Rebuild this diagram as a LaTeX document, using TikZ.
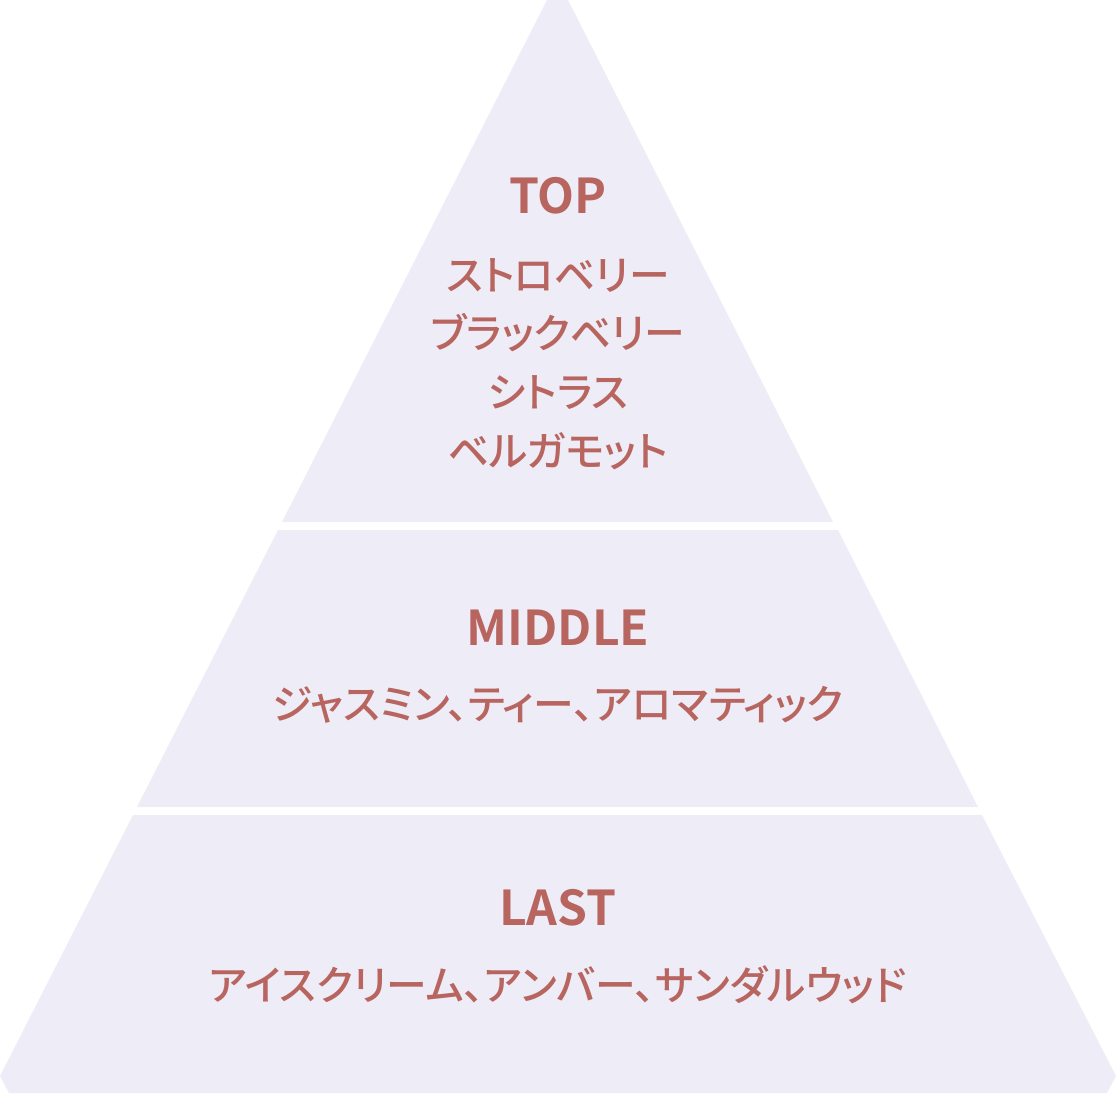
\documentclass[tikz,border=0pt]{standalone}
\usepackage{fontspec}
\newfontfamily\jp[RawFeature=+palt,BoldFont={Noto Sans CJK JP Bold}]{Noto Sans CJK JP Medium}
\definecolor{tierfill}{HTML}{EEECF7}
\definecolor{notetext}{HTML}{B86560}

\begin{document}
\begin{tikzpicture}[x=.75pt, y=-.75pt,
  tier/.style={fill=tierfill},
  head/.style={text=notetext, font=\jp\bfseries\fontsize{36}{44}\selectfont},
  notes/.style={text=notetext, align=center, font=\jp\fontsize{30.6}{44}\selectfont}]

\useasboundingbox (0,0) rectangle (1116,1094);

\fill[tier] (547,0)--(568,0)--(833,522)--(282,522)--cycle;
\fill[tier] (278,530)--(838,530)--(978,807)--(137,807)--cycle;
\fill[tier] (133,815)--(982,815)--(1116,1076)--(1107,1093)--(9,1093)--(0,1076)--cycle;

\node[head] (top) at (558,196) {TOP};
\node[notes] (topnotes) at (558,364) {ストロベリー\\ブラックベリー\\シトラス\\ベルガモット};

\node[head] (middle) at (558,628) {MIDDLE};
\node[notes] (middlenotes) at (558,705) {ジャスミン、ティー、アロマティック};

\node[head] (last) at (558,908) {LAST};
\node[notes] (lastnotes) at (558,985) {アイスクリーム、アンバー、サンダルウッド};

\end{tikzpicture}
\end{document}
